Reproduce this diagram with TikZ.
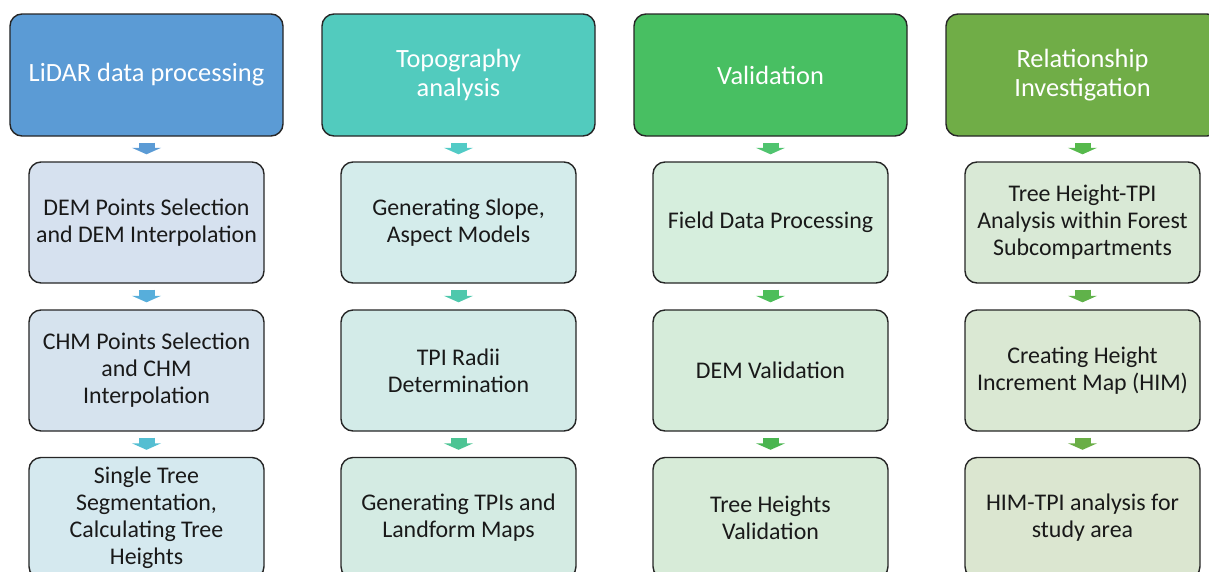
\documentclass[tikz,border=0pt]{standalone}
\usepackage{fontspec}
\setmainfont{Carlito}
\usetikzlibrary{arrows.meta}

\definecolor{headA}{HTML}{5B9BD5}
\definecolor{headB}{HTML}{52CBBE}
\definecolor{headC}{HTML}{48BF62}
\definecolor{headD}{HTML}{70AD47}
\definecolor{arrA1}{HTML}{5B9BD5}
\definecolor{arrA2}{HTML}{57AEDB}
\definecolor{arrA3}{HTML}{54BED2}
\definecolor{arrB1}{HTML}{52CBC6}
\definecolor{arrB2}{HTML}{4EC8AC}
\definecolor{arrB3}{HTML}{4CC494}
\definecolor{arrC1}{HTML}{50C46F}
\definecolor{arrC2}{HTML}{4DBE5A}
\definecolor{arrC3}{HTML}{4AB550}
\definecolor{arrD1}{HTML}{56B94C}
\definecolor{arrD2}{HTML}{60B24A}
\definecolor{arrD3}{HTML}{6AAE46}
\definecolor{fillA1}{HTML}{D6E1EF}
\definecolor{fillA2}{HTML}{D6E3EE}
\definecolor{fillA3}{HTML}{D5E9EF}
\definecolor{fillB1}{HTML}{D4ECEB}
\definecolor{fillB2}{HTML}{D3EBE8}
\definecolor{fillB3}{HTML}{D4EBE3}
\definecolor{fillC1}{HTML}{D6EEDD}
\definecolor{fillC2}{HTML}{D6ECDA}
\definecolor{fillC3}{HTML}{D7EBD8}
\definecolor{fillD1}{HTML}{D9E9D6}
\definecolor{fillD2}{HTML}{DAE8D3}
\definecolor{fillD3}{HTML}{DBE6D0}
\definecolor{edge}{HTML}{262626}

\begin{document}
\begin{tikzpicture}
    \tikzstyle{head} = [draw=edge, line width=0.8pt, rounded corners=0.24cm, minimum width=5.46cm, minimum height=2.44cm, align=center, text=white, font=\fontsize{15}{16.6}\selectfont]
    \tikzstyle{stage} = [draw=edge, line width=0.8pt, rounded corners=0.24cm, minimum width=4.7cm, minimum height=2.42cm, align=center, text=black!90, font=\fontsize{13.6}{15.3}\selectfont]
    \tikzstyle{flow} = [line width=0.32cm, -{Triangle[length=0.13cm, width=0.58cm]}, shorten <=0.12cm, shorten >=0.14cm]
    \useasboundingbox (0, 0) rectangle (24.18, -11.42);
    % LiDAR column
    \node[head, fill=headA] (hA) at (2.93, -1.5) {LiDAR data processing};
    \node[stage, fill=fillA1] (a1) at (2.93, -4.45) {DEM Points Selection\\and DEM Interpolation};
    \node[stage, fill=fillA2] (a2) at (2.93, -7.41) {CHM Points Selection\\and CHM\\Interpolation};
    \node[stage, fill=fillA3] (a3) at (2.93, -10.36) {Single Tree\\Segmentation,\\Calculating Tree\\Heights};
    \draw[flow, arrA1] (hA) -- (a1);
    \draw[flow, arrA2] (a1) -- (a2);
    \draw[flow, arrA3] (a2) -- (a3);
    % topography column
    \node[head, fill=headB] (hB) at (9.17, -1.5) {Topography\\analysis};
    \node[stage, fill=fillB1] (b1) at (9.17, -4.45) {Generating Slope,\\Aspect Models};
    \node[stage, fill=fillB2] (b2) at (9.17, -7.41) {TPI Radii\\Determination};
    \node[stage, fill=fillB3] (b3) at (9.17, -10.36) {Generating TPIs and\\Landform Maps};
    \draw[flow, arrB1] (hB) -- (b1);
    \draw[flow, arrB2] (b1) -- (b2);
    \draw[flow, arrB3] (b2) -- (b3);
    % validation column
    \node[head, fill=headC] (hC) at (15.41, -1.5) {Validation};
    \node[stage, fill=fillC1] (c1) at (15.41, -4.45) {Field Data Processing};
    \node[stage, fill=fillC2] (c2) at (15.41, -7.41) {DEM Validation};
    \node[stage, fill=fillC3] (c3) at (15.41, -10.36) {Tree Heights\\Validation};
    \draw[flow, arrC1] (hC) -- (c1);
    \draw[flow, arrC2] (c1) -- (c2);
    \draw[flow, arrC3] (c2) -- (c3);
    % relationship column
    \node[head, fill=headD] (hD) at (21.65, -1.5) {Relationship\\Investigation};
    \node[stage, fill=fillD1] (d1) at (21.65, -4.45) {Tree Height-TPI\\Analysis within Forest\\Subcompartments};
    \node[stage, fill=fillD2] (d2) at (21.65, -7.41) {Creating Height\\Increment Map (HIM)};
    \node[stage, fill=fillD3] (d3) at (21.65, -10.36) {HIM-TPI analysis for\\study area};
    \draw[flow, arrD1] (hD) -- (d1);
    \draw[flow, arrD2] (d1) -- (d2);
    \draw[flow, arrD3] (d2) -- (d3);
\end{tikzpicture}
\end{document}
